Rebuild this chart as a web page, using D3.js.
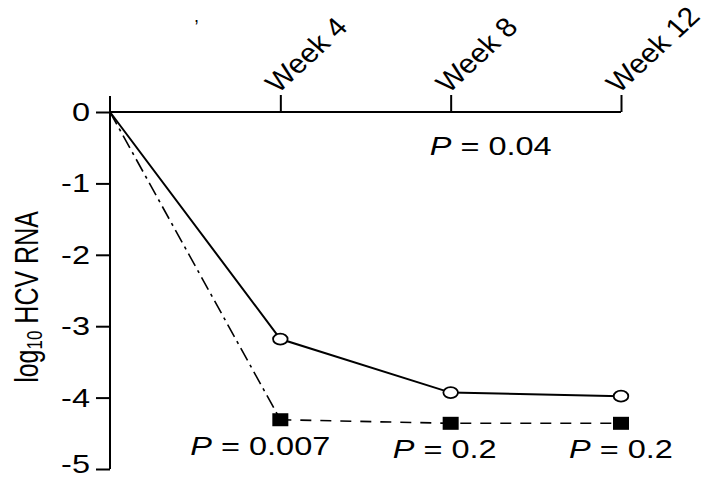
<!DOCTYPE html>
<html>
<head>
<meta charset="utf-8">
<script src="https://cdn.jsdelivr.net/npm/d3@7"></script>
<style>
  html, body { margin: 0; padding: 0; background: #fff; }
  svg { display: block; }
  text { font-family: "Liberation Sans", Arial, sans-serif; fill: #000; }
</style>
</head>
<body>
<svg id="chart" width="713" height="478"></svg>
<script>
// Time points (weeks) and mean change in log10 HCV RNA
const weeks = [0, 4, 8, 12];
const weekLabels = ["Week 4", "Week 8", "Week 12"];
const weekTicks = [4, 8, 12];
const openSeries = [0, -3.18, -3.93, -3.98];
const filledSeries = [0, -4.31, -4.36, -4.36];
const yTicks = [0, -1, -2, -3, -4, -5];
const pTop = "0.04";
const pWeeks = [4, 8, 12];
const pValues = ["0.007", "0.2", "0.2"];

// Type is set a little wide
const SX = 1.3;

const svg = d3.select("#chart");
const x = d3.scaleLinear().domain([0, 12]).range([110, 621]);
const y = d3.scaleLinear().domain([0, -5]).range([112, 469]);

// Y axis (ticks to the left)
const yAxis = d3.axisLeft(y).tickValues(yTicks).tickSize(14).tickPadding(8)
  .tickFormat(d => d === 0 ? "0" : "-" + Math.abs(d));
const gy = svg.append("g").attr("transform", `translate(${x(0)},0)`).call(yAxis);
gy.select(".domain").remove();
gy.selectAll(".tick line").attr("stroke", "#000").attr("stroke-width", 2);
gy.selectAll(".tick text")
  .attr("font-size", 25).attr("fill", "#000")
  .attr("x", -20 / SX).attr("dy", d => d === -5 ? "0.14em" : "0.34em")
  .attr("transform", `scale(${SX},1)`);
svg.append("line")
  .attr("x1", x(0)).attr("x2", x(0))
  .attr("y1", y(0) - 16).attr("y2", y(-5))
  .attr("stroke", "#000").attr("stroke-width", 2);

// X axis along zero, ticks upward
const xAxis = d3.axisTop(x).tickValues(weekTicks).tickSize(17).tickFormat("");
const gx = svg.append("g").attr("transform", `translate(0,${y(0)})`).call(xAxis);
gx.select(".domain").remove();
gx.selectAll(".tick line").attr("stroke", "#000").attr("stroke-width", 2);
svg.append("line")
  .attr("x1", x(0)).attr("x2", x(12))
  .attr("y1", y(0)).attr("y2", y(0))
  .attr("stroke", "#000").attr("stroke-width", 2);

// Slanted week labels
weekTicks.forEach((w, i) => {
  svg.append("text")
    .attr("transform", `translate(${x(w) - 2},${y(0) - 18}) scale(1.12,1) rotate(-46)`)
    .attr("font-size", 27)
    .text(weekLabels[i]);
});

// Y axis title with subscript
const yt = svg.append("text")
  .attr("transform", `translate(38,297) scale(${SX},1) rotate(-90)`)
  .attr("text-anchor", "middle")
  .attr("font-size", 25);
yt.append("tspan").text("log");
yt.append("tspan").attr("font-size", 17).attr("dy", 3).text("10");
yt.append("tspan").attr("dy", -3).text(" HCV RNA");

// Filled series: dash-dot to week 4, dashed afterwards
const lineA = d3.line().x((d, i) => x(weeks[i])).y(d => y(d));
svg.append("path")
  .attr("d", lineA(filledSeries.slice(0, 2)))
  .attr("fill", "none").attr("stroke", "#000").attr("stroke-width", 1.6)
  .attr("stroke-dasharray", "14,5,3,5");
const lineB = d3.line().x((d, i) => x(weeks[i + 1])).y(d => y(d));
svg.append("path")
  .attr("d", lineB(filledSeries.slice(1)))
  .attr("fill", "none").attr("stroke", "#000").attr("stroke-width", 1.6)
  .attr("stroke-dasharray", "11,9");

// Open series: solid
svg.append("path")
  .attr("d", lineA(openSeries))
  .attr("fill", "none").attr("stroke", "#000").attr("stroke-width", 2);

// Markers
svg.selectAll(".sq").data(filledSeries.slice(1)).join("rect")
  .attr("x", (d, i) => x(weeks[i + 1]) - 8)
  .attr("y", d => y(d) - 6.5)
  .attr("width", 16).attr("height", 13).attr("fill", "#000");
svg.selectAll(".ci").data(openSeries.slice(1)).join("ellipse")
  .attr("cx", (d, i) => x(weeks[i + 1]))
  .attr("cy", d => y(d))
  .attr("rx", 7.3).attr("ry", 5.5)
  .attr("fill", "#fff").attr("stroke", "#000").attr("stroke-width", 1.8);

// P-value annotations
function pText(cx, baseline, value) {
  const t = svg.append("text")
    .attr("x", cx / SX).attr("y", baseline)
    .attr("transform", `scale(${SX},1)`)
    .attr("text-anchor", "middle").attr("font-size", 25);
  t.append("tspan").attr("font-style", "italic").text("P");
  t.append("tspan").text(" = " + value);
}
pText(x(8) + 40, y(0) + 43, pTop);
const pOffsets = [-20, -6, 0];
pWeeks.forEach((w, i) => {
  const s = filledSeries[weeks.indexOf(w)];
  pText(x(w) + pOffsets[i], y(s) + 35, pValues[i]);
});

// Stray mark near the top
svg.append("text").attr("x", 194).attr("y", 22).attr("font-size", 18).text(",");
</script>
</body>
</html>
